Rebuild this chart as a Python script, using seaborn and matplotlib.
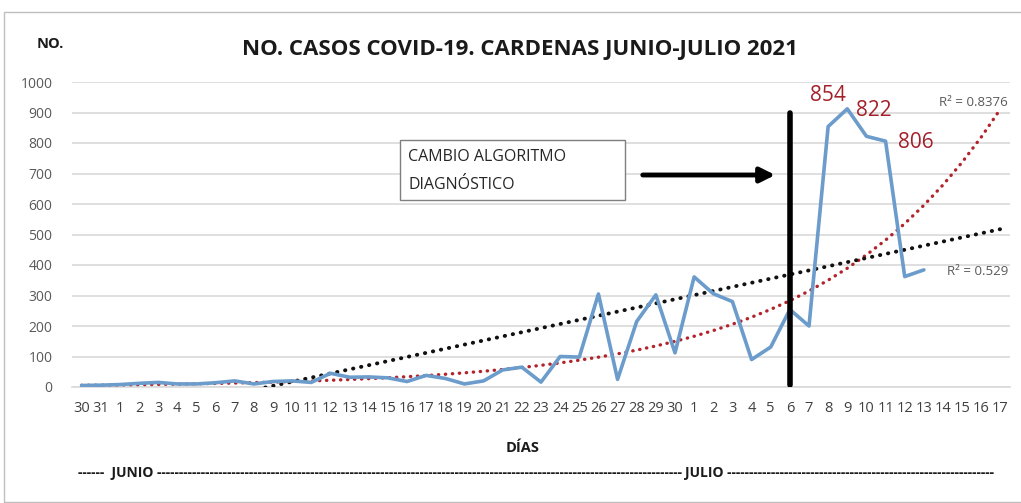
import numpy as np
import pandas as pd
import matplotlib
matplotlib.use("Agg")
import matplotlib.pyplot as plt
import seaborn as sns
from matplotlib.patches import Rectangle, FancyArrowPatch

# ---------------- data ----------------
day_labels = ["30", "31",
              "1", "2", "3", "4", "5", "6", "7", "8", "9", "10",
              "11", "12", "13", "14", "15", "16", "17", "18", "19", "20",
              "21", "22", "23", "24", "25", "26", "27", "28", "29", "30",
              "1", "2", "3", "4", "5", "6", "7", "8", "9", "10",
              "11", "12", "13", "14", "15", "16", "17"]
casos = [5, 6, 8, 12, 15, 10, 10, 14, 20, 10, 18, 20,
         15, 45, 32, 33, 30, 18, 38, 28, 10, 20,
         56, 65, 16, 100, 98, 305, 25, 215, 302, 112,
         361, 306, 280, 90, 131, 254, 200, 854, 912, 822,
         806, 362, 384]
peak_labels = ["854", "822", "806"]
peak_pos = [39, 41.4, 43.6]
peak_y = [957, 908, 800]
r2_exp = "R² = 0.8376"
r2_lin = "R² = 0.529"
cambio_idx = 37
y_ticks = [0, 100, 200, 300, 400, 500, 600, 700, 800, 900, 1000]

# ---------------- style ----------------
sns.set_style("white")
plt.rcParams["font.family"] = ["Open Sans", "DejaVu Sans"]

fig = plt.figure(figsize=(10.21, 5.03), dpi=100)
ax = fig.add_axes([72 / 1021, 1 - 387 / 503, (1010 - 72) / 1021, (387 - 82) / 503])

n = len(casos)
df = pd.DataFrame({"idx": np.arange(n), "casos": casos})

# trendlines (Excel-style fits, x = 1..n, forecast 4 periods)
xs = np.arange(1, n + 1)
xf = np.arange(1, len(day_labels) + 1)
b1, b0 = np.polyfit(xs, casos, 1)
lin = b0 + b1 * xf
k1, k0 = np.polyfit(xs, np.log(casos), 1)
expo = np.exp(k0) * np.exp(k1 * xf)
trend = pd.DataFrame({"idx": np.arange(len(day_labels)), "lin": lin, "exp": expo})

sns.lineplot(data=trend, x="idx", y="exp", ax=ax, color="#b2242c",
             linestyle=(0, (0.1, 2.0)), linewidth=2.4, dash_capstyle="round",
             zorder=3)
sns.lineplot(data=trend, x="idx", y="lin", ax=ax, color="#111111",
             linestyle=(0, (0.1, 2.0)), linewidth=2.8, dash_capstyle="round",
             zorder=3)
sns.lineplot(data=df, x="idx", y="casos", ax=ax, color="#6b9ccb",
             linewidth=2.6, zorder=4)

ax.set_xlim(-0.5, len(day_labels) - 0.5)
ax.set_ylim(0, 1000)
ax.set_yticks(y_ticks)
ax.set_yticklabels([str(v) for v in y_ticks], fontsize=10, color="#595959")
ax.set_xticks(np.arange(len(day_labels)))
ax.set_xticklabels(day_labels, fontsize=10.5, color="#404040")
ax.tick_params(axis="both", length=0, pad=10)
ax.tick_params(axis="y", pad=14)
ax.yaxis.grid(True, color="#d9d9d9", linewidth=1.2)
ax.set_axisbelow(True)
for s in ["top", "right", "left"]:
    ax.spines[s].set_visible(False)
ax.spines["bottom"].set_color("#d9d9d9")
ax.spines["bottom"].set_linewidth(1.2)
ax.set_xlabel("")
ax.set_ylabel("")

# vertical marker line
ax.plot([cambio_idx, cambio_idx], [5, 900], color="black", linewidth=4,
        solid_capstyle="round", zorder=5)

# peak labels
for t, px, py in zip(peak_labels, peak_pos, peak_y):
    ax.text(px, py, t, color="#a3202a", fontsize=15, ha="center", va="center", zorder=6)

# R² labels
ax.text(48.4, 934, r2_exp, color="#595959", fontsize=9.5, ha="right", va="center")
ax.text(48.4, 378, r2_lin, color="#595959", fontsize=9.5, ha="right", va="center")

# annotation box and arrow
fig.patches.append(Rectangle((400 / 1021, 1 - 200 / 503), 225 / 1021, 60 / 503,
                             transform=fig.transFigure, facecolor="white",
                             edgecolor="#7f7f7f", linewidth=1.0, zorder=10))
fig.text(408 / 1021, 1 - 157 / 503, "CAMBIO ALGORITMO", fontsize=11.5,
         color="#262626", va="center", ha="left", zorder=11)
fig.text(408 / 1021, 1 - 185 / 503, "DIAGNÓSTICO", fontsize=11.5,
         color="#262626", va="center", ha="left", zorder=11)
fig.patches.append(FancyArrowPatch((640 / 1021, 1 - 175 / 503), (778 / 1021, 1 - 175 / 503),
                                   transform=fig.transFigure, arrowstyle="-|>",
                                   mutation_scale=22, linewidth=3.5, color="black"))

# titles and axis texts
fig.text(520 / 1021, 1 - 50 / 503, "NO. CASOS COVID-19. CARDENAS JUNIO-JULIO 2021",
         fontsize=16, fontweight="bold", ha="center", va="center", color="#1a1a1a")
fig.text(50 / 1021, 1 - 44 / 503, "NO.", fontsize=10.5, fontweight="bold",
         ha="center", va="center", color="#1a1a1a")
fig.text(523 / 1021, 1 - 448 / 503, "DÍAS", fontsize=10.5, fontweight="bold",
         ha="center", va="center", color="#1a1a1a")
fig.text(78 / 1021, 1 - 473 / 503, "------  JUNIO " + "-" * 120, fontsize=10,
         fontweight="bold", ha="left", va="center", color="#1a1a1a")
fig.text(685 / 1021, 1 - 473 / 503, "JULIO " + "-" * 61, fontsize=10,
         fontweight="bold", ha="left", va="center", color="#1a1a1a")

# chart frame
fig.patches.append(Rectangle((4 / 1021, 1 / 503), 1020 / 1021, 490 / 503,
                             transform=fig.transFigure, fill=False,
                             edgecolor="#bfbfbf", linewidth=1.0))

fig.savefig("out.png", dpi=100)
